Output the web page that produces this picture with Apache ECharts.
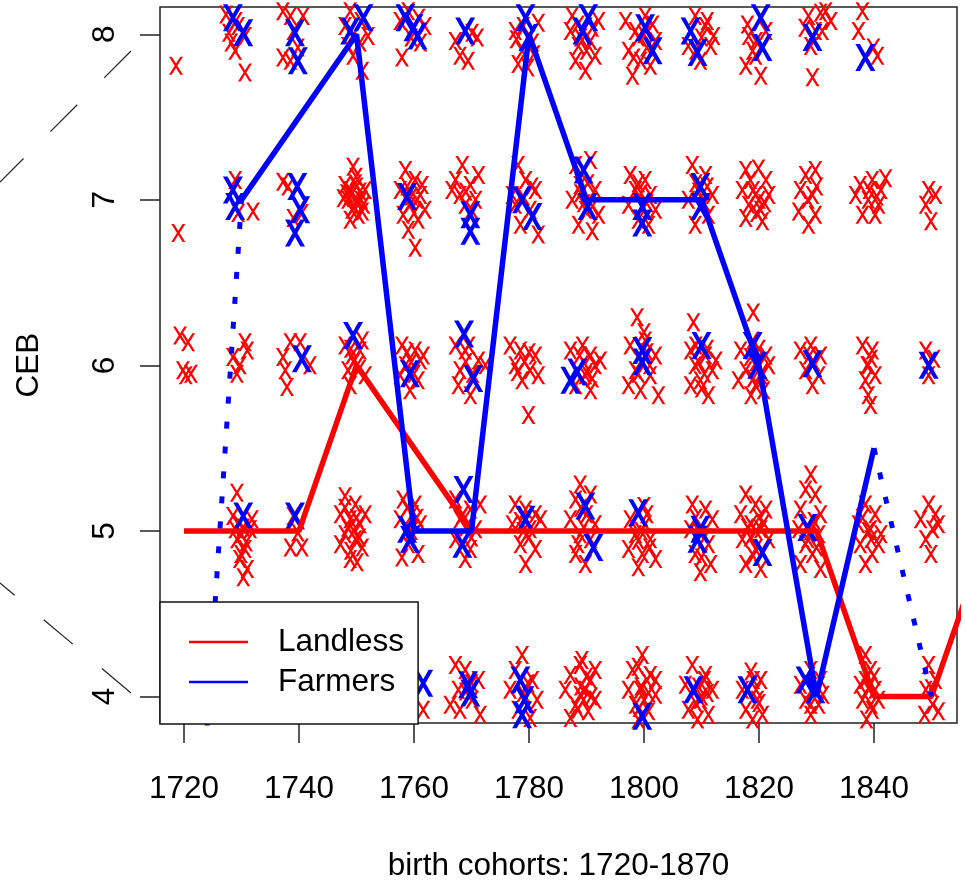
<!DOCTYPE html>
<html>
<head>
<meta charset="utf-8">
<script src="https://cdn.jsdelivr.net/npm/echarts@6/dist/echarts.min.js"></script>
<style>
  html, body { margin: 0; padding: 0; background: #fff; }
  #main { width: 965px; height: 890px; }
</style>
</head>
<body>
<div id="main"></div>
<script>
// tick labels
const xTicks = [1720, 1740, 1760, 1780, 1800, 1820, 1840];
const yTicks = [4, 5, 6, 7, 8];

// group medians (lines)
const landlessLine = [[1720,5],[1730,5],[1740,5],[1750,6],[1770,5],[1780,5],[1790,5],[1800,5],[1810,5],[1820,5],[1830,5],[1840,4],[1850,4],[1860,5]];
const farmersLine = [[1730,7],[1750,8],[1760,5],[1770,5],[1780,8],[1790,7],[1800,7],[1810,7],[1820,6],[1830,4],[1840,5.5]];
const farmersDotLeft = [[1720,1.7],[1730,7]];
const farmersDotRight = [[1840,5.5],[1850,4]];

// individual observations, Landless (jittered cohort year, CEB)
const landlessCeb8 = [
  [1718.6,7.81],
  [1727.3,8.12],[1727.8,8.01],[1728.9,7.90],[1730.6,7.77],[1730.6,7.99],[1729.4,8.05],[1729.0,8.08],[1728.2,7.95],
  [1737.2,8.14],[1738.5,8.11],[1740.7,8.11],[1737.2,7.86],[1738.5,7.84],[1739.8,7.92],[1739.0,8.02],
  [1748.0,8.05],[1750.6,7.95],[1749.4,7.87],[1751.0,7.78],[1748.9,8.14],[1752.0,7.99],[1749.5,8.00],[1750.8,8.08],[1748.5,7.93],
  [1757.6,8.08],[1757.9,7.86],[1761.1,7.95],[1761.9,8.05],[1759.0,8.14],[1759.5,7.98],[1760.8,8.10],
  [1767.2,7.96],[1770.1,8.01],[1769.4,7.84],[1771.0,7.98],[1768.0,7.87],
  [1777.6,8.02],[1778.8,7.90],[1781.6,8.07],[1778.1,7.82],[1780.6,7.95],[1779.0,8.05],[1780.8,7.88],[1777.8,7.97],[1779.8,7.80],
  [1787.2,8.02],[1788.6,7.93],[1790.7,7.96],[1788.1,7.84],[1791.5,7.87],[1789.8,7.78],[1787.5,8.11],[1792.1,8.08],[1789.0,7.98],[1790.0,7.90],[1791.0,8.04],[1788.5,8.06],
  [1796.8,8.08],[1798.5,8.02],[1800.2,8.11],[1802.0,7.96],[1797.3,7.90],[1799.4,7.84],[1798.0,7.75],[1801.1,7.81],[1799.0,7.98],[1800.5,7.92],[1801.5,8.06],[1798.2,7.86],[1800.0,8.00],
  [1808.9,8.11],[1810.7,8.05],[1811.6,7.93],[1809.8,7.84],[1807.7,7.93],[1812.1,7.99],[1810.0,7.98],[1809.0,7.90],[1811.0,8.08],
  [1818.2,7.99],[1819.4,7.87],[1817.7,7.81],[1820.3,7.75],[1818.9,7.90],[1821.2,8.02],[1819.5,7.96],[1818.0,8.06],
  [1828.6,8.11],[1830.7,8.13],[1832.5,8.08],[1829.8,8.02],[1829.0,7.93],[1829.3,7.74],[1831.6,8.14],[1828.0,8.04],[1831.0,8.02],
  [1837.3,8.02],[1839.9,7.92],[1838.0,8.14],[1840.6,7.87]
];
const landlessCeb7 = [
  [1719.0,6.80],
  [1728.9,7.12],[1729.4,6.92],[1732.0,6.93],
  [1737.2,7.11],[1738.1,7.08],[1739.0,6.89],[1740.5,6.92],
  [1749.4,7.20],[1748.0,7.09],[1748.9,7.06],[1750.6,7.05],[1748.5,7.00],[1750.1,7.00],[1751.2,6.97],[1749.2,6.94],[1747.7,7.01],[1750.3,6.91],[1751.5,7.06],[1748.9,6.88],[1749.8,7.10],
  [1749.0,7.03],[1750.0,7.08],[1749.6,6.96],[1750.8,7.00],[1748.3,7.04],[1749.9,7.14],[1751.0,6.93],
  [1758.5,7.18],[1760.2,7.12],[1757.6,7.06],[1761.1,7.03],[1759.3,6.97],[1761.9,6.94],[1758.1,6.91],[1760.7,6.88],[1759.0,6.82],[1760.2,6.71],[1761.4,7.09],
  [1759.5,7.02],[1760.5,7.00],[1758.8,7.08],[1760.0,6.92],
  [1768.4,7.21],[1767.2,7.12],[1769.8,7.09],[1768.0,7.03],[1770.7,7.00],[1768.9,6.97],[1766.6,7.06],[1771.2,7.15],[1769.0,7.05],[1770.0,6.94],
  [1778.1,7.21],[1779.4,7.12],[1781.1,7.06],[1777.6,6.97],[1780.2,6.94],[1778.5,6.85],[1781.6,6.79],[1777.1,7.03],[1779.0,7.02],[1780.5,7.08],
  [1788.1,7.21],[1790.7,7.24],[1788.9,7.09],[1791.5,7.06],[1787.5,7.00],[1789.8,6.94],[1792.1,6.91],[1788.6,6.85],[1791.0,6.81],
  [1789.0,7.04],[1790.2,7.10],[1789.5,6.98],[1791.0,6.96],
  [1797.6,7.15],[1800.2,7.12],[1798.5,7.06],[1801.1,7.03],[1797.3,6.97],[1802.0,6.94],[1799.0,6.88],[1800.8,6.85],[1799.5,7.04],[1800.5,6.98],[1799.0,7.10],
  [1808.4,7.21],[1810.7,7.15],[1811.9,7.03],[1807.7,7.00],[1811.2,6.91],[1808.9,6.85],[1809.5,7.05],[1810.5,6.98],[1809.0,7.10],[1811.0,7.08],
  [1817.7,7.18],[1819.9,7.19],[1821.2,7.12],[1817.1,7.06],[1819.4,7.03],[1821.7,7.03],[1818.2,6.97],[1820.3,6.94],[1817.7,6.89],[1820.6,6.87],
  [1819.0,7.06],[1820.0,7.00],[1818.5,7.12],[1821.0,6.98],[1819.6,6.92],
  [1828.1,7.15],[1829.8,7.18],[1827.2,7.06],[1829.3,7.03],[1826.9,6.93],[1829.8,6.91],[1828.6,6.85],[1828.5,7.00],[1830.0,7.08],
  [1837.6,7.09],[1839.7,7.12],[1841.2,7.06],[1836.8,7.03],[1839.0,7.00],[1840.8,6.97],[1838.0,6.91],[1840.2,6.91],[1842.0,7.13],[1839.2,7.06],[1840.5,7.02],
  [1849.5,7.06],[1850.7,7.03],[1849.0,6.97],[1849.9,6.87]
];
const landlessCeb6 = [
  [1719.3,6.18],[1720.7,6.14],[1719.8,5.97],[1721.2,5.95],[1720.3,5.94],
  [1728.5,6.05],[1730.6,6.14],[1729.2,5.95],[1731.0,6.09],[1729.7,6.00],
  [1737.2,6.05],[1738.5,6.14],[1740.2,6.14],[1737.6,5.97],[1737.9,5.87],[1741.9,6.00],
  [1748.0,6.12],[1749.2,6.06],[1750.6,6.09],[1748.5,5.97],[1750.1,6.00],[1751.5,5.94],[1748.9,5.88],[1751.0,6.15],[1749.5,6.02],[1750.5,5.98],[1749.0,6.10],
  [1757.9,6.12],[1760.2,6.09],[1761.1,6.03],[1758.5,6.00],[1760.7,5.91],[1759.3,5.85],[1757.6,5.94],[1761.6,6.06],[1759.5,6.02],[1760.0,5.95],[1758.8,6.08],
  [1767.2,6.12],[1768.9,6.09],[1771.2,6.03],[1768.0,5.97],[1772.4,6.00],[1769.8,5.82],[1767.7,5.88],[1769.0,6.02],[1770.2,5.95],[1769.5,6.12],
  [1776.7,6.12],[1778.5,6.09],[1781.1,6.06],[1777.6,6.00],[1780.2,5.97],[1778.8,5.91],[1781.6,5.94],[1779.9,5.70],[1779.2,6.02],[1780.0,6.08],[1778.0,5.96],
  [1787.2,6.09],[1789.3,6.12],[1790.7,6.06],[1791.5,6.00],[1789.8,5.94],[1788.1,5.88],[1790.7,5.85],[1792.4,6.03],[1789.5,6.02],[1790.0,5.96],[1788.8,6.06],[1791.0,5.92],
  [1797.6,6.12],[1800.2,6.15],[1802.0,6.06],[1798.5,5.97],[1801.1,5.94],[1799.4,5.85],[1797.3,5.88],[1802.5,5.82],[1798.8,6.29],
  [1799.5,6.02],[1800.5,6.08],[1799.0,5.95],[1801.0,6.00],[1800.0,6.20],
  [1808.1,6.09],[1810.7,6.06],[1808.9,6.00],[1811.9,5.97],[1809.8,5.91],[1808.1,5.88],[1811.2,5.82],[1812.5,6.03],[1808.6,6.26],
  [1809.5,6.02],[1810.5,5.95],[1809.0,6.12],[1810.0,5.86],[1811.0,6.10],
  [1816.8,6.09],[1818.9,6.15],[1821.2,6.06],[1817.7,5.97],[1820.3,5.94],[1816.4,5.91],[1819.4,5.88],[1818.6,5.82],[1821.7,6.00],[1819.0,6.32],
  [1819.5,6.02],[1820.5,5.96],[1818.5,6.05],[1819.0,5.92],[1820.0,6.10],[1820.8,5.85],
  [1827.2,6.09],[1829.0,6.12],[1830.7,6.06],[1828.1,5.97],[1830.4,5.94],[1829.3,5.88],[1829.5,6.02],[1828.8,6.06],
  [1838.0,6.12],[1839.7,6.09],[1839.0,6.00],[1838.5,5.91],[1840.2,5.94],[1839.0,5.82],[1839.4,5.76],[1839.5,6.04],[1838.8,6.00],
  [1849.0,6.09],[1850.4,6.04],[1849.5,5.94]
];
const landlessCeb5 = [
  [1729.2,5.23],[1728.5,5.09],[1730.3,5.02],[1731.5,5.01],[1729.2,4.95],[1730.6,4.89],[1729.7,4.83],[1731.0,4.77],[1730.3,4.72],[1728.9,5.01],[1731.8,5.07],
  [1730.0,4.98],[1729.5,5.05],[1730.8,4.93],[1729.9,4.86],
  [1739.0,5.09],[1739.8,4.99],[1738.5,4.90],[1740.5,4.90],
  [1748.0,5.21],[1749.8,5.16],[1747.2,5.10],[1748.9,5.07],[1750.6,5.04],[1748.0,4.98],[1749.8,4.95],[1747.2,4.92],[1751.0,4.90],[1748.9,4.83],[1750.1,4.81],[1751.5,5.10],
  [1749.5,5.00],[1750.0,5.08],[1748.5,5.02],[1749.0,4.88],[1750.5,4.96],[1748.0,5.14],
  [1758.1,5.19],[1760.2,5.16],[1757.6,5.07],[1761.1,5.04],[1759.0,4.92],[1760.7,4.86],[1757.9,4.84],[1759.7,5.10],[1759.5,5.00],[1760.5,5.08],[1758.8,5.14],
  [1767.2,5.19],[1769.8,5.13],[1771.5,5.16],[1768.0,5.07],[1770.7,5.01],[1767.2,4.95],[1769.8,4.89],[1768.9,4.83],[1769.0,5.02],[1770.0,4.96],[1768.5,5.10],
  [1777.6,5.16],[1779.4,5.13],[1781.1,5.10],[1777.1,5.04],[1780.2,5.01],[1778.5,4.92],[1781.1,4.89],[1779.4,4.80],[1782.0,5.07],[1779.0,5.00],[1780.0,4.96],[1778.5,5.06],
  [1788.9,5.28],[1788.1,5.19],[1790.7,5.22],[1787.2,5.07],[1791.5,5.04],[1788.9,4.98],[1790.7,4.95],[1788.1,4.86],[1789.8,4.80],
  [1789.5,5.02],[1790.0,5.10],[1788.5,4.92],[1789.0,5.14],
  [1797.6,5.07],[1800.2,5.04],[1798.5,4.98],[1801.1,4.95],[1797.3,4.89],[1799.7,4.86],[1802.0,4.83],[1799.0,4.78],
  [1799.5,5.00],[1800.5,5.10],[1799.0,4.94],[1800.0,5.15],[1801.0,4.90],
  [1808.4,5.16],[1810.7,5.13],[1811.9,5.07],[1808.1,5.01],[1811.2,4.92],[1808.9,4.86],[1811.6,4.80],[1809.8,4.75],
  [1809.5,5.00],[1810.5,4.96],[1809.0,5.08],[1810.0,4.84],
  [1817.7,5.22],[1819.4,5.16],[1816.8,5.10],[1821.2,5.13],[1818.6,5.04],[1820.3,5.01],[1817.1,4.95],[1821.7,4.95],[1819.4,4.89],[1817.7,4.80],[1820.3,4.77],
  [1819.5,5.00],[1820.0,5.08],[1818.5,4.96],[1819.0,4.85],[1820.8,5.05],[1818.0,5.02],
  [1829.0,5.34],[1828.1,5.25],[1829.8,5.22],[1827.2,5.13],[1830.7,5.10],[1826.9,5.01],[1830.4,4.98],[1828.1,4.92],[1829.3,4.86],[1827.2,4.80],[1830.7,4.77],
  [1829.0,5.00],[1829.6,5.06],[1828.5,4.95],[1830.0,4.90],
  [1838.5,5.16],[1840.2,5.10],[1837.3,5.04],[1839.4,5.01],[1841.2,4.98],[1837.6,4.92],[1839.7,4.86],[1838.5,4.80],[1840.8,4.92],
  [1839.0,5.00],[1839.5,4.95],[1838.0,5.08],
  [1849.5,5.16],[1850.7,5.10],[1848.1,5.07],[1850.2,5.01],[1849.0,4.95],[1851.2,5.04],[1849.9,4.86]
];
const landlessCeb4 = [
  [1729.5,4.05],[1730.5,3.95],[1739.8,4.02],[1750.5,4.08],[1749.5,3.95],
  [1759.5,4.03],[1761.6,3.92],[1758.0,4.10],
  [1767.2,4.19],[1768.9,4.16],[1771.2,4.10],[1767.7,4.04],[1770.1,3.98],[1768.0,3.92],[1771.5,3.89],[1766.3,3.95],[1769.0,4.03],[1770.0,4.08],
  [1778.8,4.25],[1777.6,4.16],[1780.6,4.10],[1776.7,4.04],[1781.4,3.98],[1778.1,3.92],[1780.2,3.87],[1779.0,4.02],[1779.8,4.08],
  [1788.9,4.19],[1787.2,4.13],[1790.7,4.10],[1786.3,4.04],[1789.8,4.04],[1791.5,3.98],[1788.1,3.95],[1790.3,3.91],[1787.2,3.87],[1788.9,4.01],[1791.5,4.16],
  [1789.0,4.06],[1789.5,3.98],[1790.0,4.12],[1788.5,3.92],[1790.8,4.00],[1789.2,4.22],
  [1799.7,4.25],[1798.0,4.16],[1801.1,4.13],[1797.3,4.04],[1799.4,4.04],[1802.0,4.01],[1798.5,3.95],[1800.8,3.91],[1799.0,3.86],[1802.0,4.10],
  [1799.5,4.06],[1800.0,3.98],[1800.5,4.10],[1799.0,4.18],[1800.8,4.02],[1799.2,3.93],
  [1808.4,4.19],[1810.7,4.13],[1807.2,4.07],[1811.9,4.04],[1809.8,3.98],[1807.7,3.92],[1811.2,3.89],[1809.3,3.86],
  [1809.5,4.06],[1810.0,4.00],[1810.5,4.10],[1809.0,3.96],[1811.0,4.02],
  [1818.6,4.15],[1820.3,4.10],[1817.1,4.04],[1819.7,3.98],[1817.7,3.92],[1820.6,3.89],[1818.9,3.86],[1819.5,4.04],[1820.0,3.96],[1819.0,4.10],
  [1829.0,4.16],[1827.2,4.07],[1830.7,4.10],[1828.1,3.98],[1830.4,3.95],[1829.0,3.89],[1831.1,4.01],[1829.5,4.04],[1829.0,3.95],
  [1838.5,4.25],[1839.4,4.16],[1837.6,4.07],[1840.2,4.04],[1838.0,3.98],[1839.7,3.92],[1838.7,3.86],[1840.8,3.98],
  [1839.0,4.05],[1839.5,3.95],[1838.5,4.10],[1840.0,4.12],
  [1849.5,4.19],[1850.7,4.10],[1849.0,4.04],[1850.2,3.95],[1851.2,3.91],[1848.8,3.89],[1850.0,4.05]
];

// individual observations, Farmers
const farmersCeb8 = [[1728.5,8.10],[1730.3,8.01],[1739.3,8.01],[1739.8,7.84],[1748.9,8.02],[1751.2,8.10],[1758.5,8.10],[1759.9,8.04],[1760.6,7.99],[1768.9,8.02],[1779.4,8.10],[1779.9,7.98],[1789.3,8.02],[1790.3,8.10],[1800.2,8.04],[1801.5,7.90],[1808.1,8.02],[1809.3,7.89],[1820.3,8.10],[1820.6,7.92],[1829.3,7.98],[1838.5,7.86],[1839.4,8.17]];
const farmersCeb7 = [[1728.5,7.06],[1728.9,6.96],[1739.7,7.08],[1740.2,6.94],[1739.3,6.80],[1758.8,7.02],[1769.8,6.91],[1769.8,6.81],[1778.8,7.00],[1780.6,6.90],[1789.5,7.18],[1790.2,6.96],[1799.7,6.96],[1799.7,6.86],[1809.8,7.08],[1809.8,6.96]];
const farmersCeb6 = [[1740.5,6.04],[1749.4,6.18],[1759.3,5.95],[1768.7,6.19],[1770.3,5.92],[1787.2,5.91],[1788.4,5.96],[1799.7,6.09],[1799.7,6.02],[1810.0,6.12],[1818.9,6.12],[1819.7,6.00],[1829.3,6.01],[1849.5,6.00]];
const farmersCeb5 = [[1730.3,5.09],[1739.3,5.09],[1758.8,5.01],[1759.3,4.95],[1768.6,5.25],[1768.4,4.92],[1779.4,5.07],[1789.8,5.15],[1791.2,4.90],[1799.0,5.11],[1809.8,5.01],[1809.3,4.95],[1820.6,4.87],[1828.4,5.02]];
const farmersCeb4 = [[1739.5,4.05],[1761.6,4.08],[1769.4,4.07],[1769.8,4.02],[1778.5,4.10],[1779.2,3.98],[1778.8,3.89],[1799.7,3.88],[1808.6,4.04],[1818.0,4.04],[1828.1,4.10],[1829.8,4.04]];

const RED = '#ff0000';
const BLUE = '#0000ff';
const FONT = 'Liberation Sans, Arial, sans-serif';
// letter "X" shapes
const xThin = 'path://M0,0 L2.5,0 L6.5,6.48 L10.5,0 L13,0 L7.75,8.5 L13,17 L10.5,17 L6.5,10.52 L2.5,17 L0,17 L5.25,8.5 Z';
const xBold = 'path://M0,0 L3,0 L6.5,5.95 L10,0 L13,0 L8,8.5 L13,17 L10,17 L6.5,11.05 L3,17 L0,17 L5,8.5 Z';

const chart = echarts.init(document.getElementById('main'), null, { renderer: 'canvas' });
chart.setOption({
  animation: false,
  backgroundColor: '#fff',
  textStyle: { fontFamily: FONT },
  grid: {
    left: 160, right: 8, top: 7, bottom: 167,
    show: true, borderColor: '#222', borderWidth: 1.5
  },
  xAxis: {
    type: 'value',
    min: 1715.82, max: 1854.44,
    name: 'birth cohorts: 1720-1870',
    nameLocation: 'middle',
    nameGap: 127,
    nameTextStyle: { fontSize: 31.5, color: '#000', fontFamily: FONT },
    axisLine: { show: false, onZero: false },
    splitLine: { show: false },
    axisTick: { show: true, length: 20, customValues: xTicks, lineStyle: { color: '#222', width: 1.5 } },
    axisLabel: { customValues: xTicks, fontSize: 31.5, color: '#000', margin: 50, fontFamily: FONT, formatter: v => String(v) }
  },
  yAxis: {
    type: 'value',
    min: 3.8395, max: 8.165,
    name: 'CEB',
    nameLocation: 'middle',
    nameGap: 115,
    nameRotate: 90,
    nameTextStyle: { fontSize: 31.5, color: '#000', fontFamily: FONT },
    axisLine: { show: false, onZero: false },
    splitLine: { show: false },
    axisTick: { show: true, length: 20, customValues: yTicks, lineStyle: { color: '#222', width: 1.5 } },
    axisLabel: { customValues: yTicks, rotate: 90, fontSize: 31.5, color: '#000', margin: 38.5, fontFamily: FONT, formatter: v => String(v) }
  },
  legend: {
    left: 160, top: 602,
    orient: 'vertical',
    z: 20,
    selectedMode: false,
    padding: [24, 14, 26, 29],
    itemWidth: 59, itemHeight: 2.5, itemGap: 8,
    backgroundColor: '#fff',
    borderColor: '#111', borderWidth: 1.5, borderRadius: 0,
    textStyle: { fontSize: 31.5, lineHeight: 32, color: '#000', fontFamily: FONT, padding: [0, 0, 0, 25] },
    data: [
      { name: 'Landless', icon: 'rect', itemStyle: { color: RED, borderWidth: 0 } },
      { name: 'Farmers', icon: 'rect', itemStyle: { color: BLUE, borderWidth: 0 } }
    ]
  },
  graphic: [
    { type: 'line', z: 1, shape: { x1: 131, y1: 51, x2: 0, y2: 182 }, style: { stroke: '#222', lineWidth: 1.2, lineDash: [38, 38] } },
    { type: 'line', z: 1, shape: { x1: 131, y1: 693, x2: 0, y2: 583 }, style: { stroke: '#222', lineWidth: 1.2, lineDash: [38, 38] } }
  ],
  series: [
    {
      name: 'Landless', type: 'scatter', z: 2,
      symbol: xThin, symbolSize: [14, 18],
      itemStyle: { color: RED, opacity: 1 },
      data: [].concat(landlessCeb8, landlessCeb7, landlessCeb6, landlessCeb5, landlessCeb4)
    },
    {
      name: 'Farmers', type: 'scatter', z: 3,
      symbol: xBold, symbolSize: [20, 27],
      itemStyle: { color: BLUE, opacity: 1 },
      data: [].concat(farmersCeb8, farmersCeb7, farmersCeb6, farmersCeb5, farmersCeb4)
    },
    {
      name: 'Landless', type: 'line', z: 4, symbol: 'none', clip: true,
      lineStyle: { color: RED, width: 5.5 },
      itemStyle: { color: RED },
      data: landlessLine
    },
    {
      name: 'Farmers', type: 'line', z: 5, symbol: 'none', clip: true,
      lineStyle: { color: BLUE, width: 5.5 },
      itemStyle: { color: BLUE },
      data: farmersLine
    },
    {
      name: 'Farmers', type: 'line', z: 5, symbol: 'none', clip: true,
      lineStyle: { color: BLUE, width: 5, type: [7, 18], cap: 'butt' },
      data: farmersDotLeft
    },
    {
      name: 'Farmers', type: 'line', z: 5, symbol: 'none', clip: true,
      lineStyle: { color: BLUE, width: 5, type: [7, 18], cap: 'butt' },
      data: farmersDotRight
    }
  ]
});
</script>
</body>
</html>
